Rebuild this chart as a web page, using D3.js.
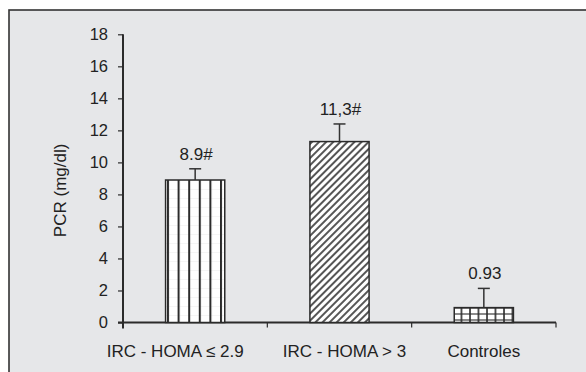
<!DOCTYPE html>
<html>
<head>
<meta charset="utf-8">
<script src="https://cdn.jsdelivr.net/npm/d3@7/dist/d3.min.js"></script>
<style>
  html, body { margin: 0; padding: 0; background: #ffffff; }
  svg { display: block; font-family: "Liberation Sans", Arial, sans-serif; }
</style>
</head>
<body>
<svg id="chart" width="586" height="372"></svg>
<script>
// Mean PCR per group, with the upper error bar and the printed value label
const categories = ["IRC - HOMA \u2264 2.9", "IRC - HOMA > 3", "Controles"];
const values = [8.9, 11.3, 0.93];
const errors = [0.7, 1.1, 1.2];
const valueLabels = ["8.9#", "11,3#", "0.93"];
const yTicks = [0, 2, 4, 6, 8, 10, 12, 14, 16, 18];
const fills = ["url(#vlines)", "url(#diag)", "url(#grid)"];

const svg = d3.select("#chart");
const ink = "#2b2b2b";
const fontSize = 17;

// Hatch patterns for the three bars
const defs = svg.append("defs");

const pv = defs.append("pattern").attr("id", "vlines")
  .attr("patternUnits", "userSpaceOnUse").attr("width", 10.6).attr("height", 9)
  .attr("x", 167);
pv.append("rect").attr("width", 10.6).attr("height", 9).attr("fill", "#fff");
pv.append("line").attr("x1", 0).attr("x2", 10.6).attr("y1", 0.5).attr("y2", 0.5)
  .attr("stroke", "#ececec").attr("stroke-width", 0.5);
pv.append("line").attr("x1", 1).attr("x2", 1).attr("y1", 0).attr("y2", 9)
  .attr("stroke", ink).attr("stroke-width", 2);

const pd = defs.append("pattern").attr("id", "diag")
  .attr("patternUnits", "userSpaceOnUse").attr("width", 5).attr("height", 5)
  .attr("patternTransform", "rotate(45)");
pd.append("rect").attr("width", 5).attr("height", 5).attr("fill", "#fff");
pd.append("line").attr("x1", 1).attr("x2", 1).attr("y1", 0).attr("y2", 5)
  .attr("stroke", ink).attr("stroke-width", 1.6);

const pg = defs.append("pattern").attr("id", "grid")
  .attr("patternUnits", "userSpaceOnUse").attr("width", 8.5).attr("height", 6)
  .attr("x", 452).attr("y", 1);
pg.append("rect").attr("width", 8.5).attr("height", 6).attr("fill", "#fff");
pg.append("line").attr("x1", 0).attr("x2", 8.5).attr("y1", 1).attr("y2", 1)
  .attr("stroke", ink).attr("stroke-width", 1.1);
pg.append("line").attr("x1", 1).attr("x2", 1).attr("y1", 0).attr("y2", 6)
  .attr("stroke", ink).attr("stroke-width", 1.6);

// Gray panel with a dark frame on the top and left
svg.append("rect").attr("x", 9).attr("y", 10).attr("width", 580).attr("height", 365)
  .attr("fill", "#e6e7e9").attr("stroke", "#333").attr("stroke-width", 1.6);

// Scales
const y = d3.scaleLinear().domain([0, 18]).range([322.5, 34.3]);
const x = d3.scaleBand().domain(categories).range([123, 556])
  .paddingInner(0.59).paddingOuter(0.295);
const step = x.step();

// Y axis
const yAxis = svg.append("g").attr("transform", "translate(123,0)")
  .call(d3.axisLeft(y).tickValues(yTicks).tickSize(5).tickPadding(10).tickSizeOuter(0));
yAxis.select(".domain").attr("stroke", ink).attr("stroke-width", 2)
  .attr("d", `M0,${y(18)}V${y(0) + 6}`);
yAxis.selectAll(".tick line").attr("stroke", ink).attr("stroke-width", 1.2);
yAxis.selectAll(".tick text").attr("font-size", 16.5).attr("fill", "#222")
  .attr("font-family", "Liberation Sans, Arial, sans-serif");

// X axis baseline with ticks at the band boundaries
const xg = svg.append("g");
xg.append("line").attr("x1", 118).attr("x2", x.range()[1])
  .attr("y1", y(0)).attr("y2", y(0)).attr("stroke", ink).attr("stroke-width", 2);
const bounds = [0, 1, 2, 3].map(i => x.range()[0] + i * step);
xg.selectAll("line.xt").data(bounds).join("line").attr("class", "xt")
  .attr("x1", d => d).attr("x2", d => d)
  .attr("y1", y(0)).attr("y2", y(0) + 5)
  .attr("stroke", ink).attr("stroke-width", 1.2);

// Category labels
const labelShift = [-20, 5, 0];
xg.selectAll("text.cat").data(categories).join("text").attr("class", "cat")
  .attr("x", (d, i) => x(d) + x.bandwidth() / 2 + labelShift[i])
  .attr("y", 357)
  .attr("text-anchor", "middle").attr("font-size", fontSize).attr("fill", "#222")
  .text(d => d);

// Y axis title
svg.append("text")
  .attr("transform", `translate(66,${(y(0) + y(18)) / 2 + 12}) rotate(-90)`)
  .attr("text-anchor", "middle").attr("font-size", fontSize).attr("fill", "#222")
  .text("PCR (mg/dl)");

// Bars
const bars = svg.append("g");
bars.selectAll("rect").data(values).join("rect")
  .attr("x", (d, i) => x(categories[i]))
  .attr("y", d => y(d))
  .attr("width", x.bandwidth())
  .attr("height", d => y(0) - y(d))
  .attr("fill", (d, i) => fills[i])
  .attr("stroke", ink).attr("stroke-width", 1.5);

// Upper error bars
const eb = svg.append("g").attr("stroke", "#333").attr("stroke-width", 1.5);
values.forEach((v, i) => {
  const cx = x(categories[i]) + x.bandwidth() / 2;
  eb.append("line").attr("x1", cx).attr("x2", cx).attr("y1", y(v)).attr("y2", y(v + errors[i]));
  eb.append("line").attr("x1", cx - 6).attr("x2", cx + 6)
    .attr("y1", y(v + errors[i])).attr("y2", y(v + errors[i]));
});

// Value labels above the error bars
svg.append("g").selectAll("text").data(values).join("text")
  .attr("x", (d, i) => x(categories[i]) + x.bandwidth() / 2 + 1)
  .attr("y", (d, i) => y(d + errors[i]) - 9)
  .attr("text-anchor", "middle").attr("font-size", fontSize).attr("fill", "#222")
  .text((d, i) => valueLabels[i]);
</script>
</body>
</html>
